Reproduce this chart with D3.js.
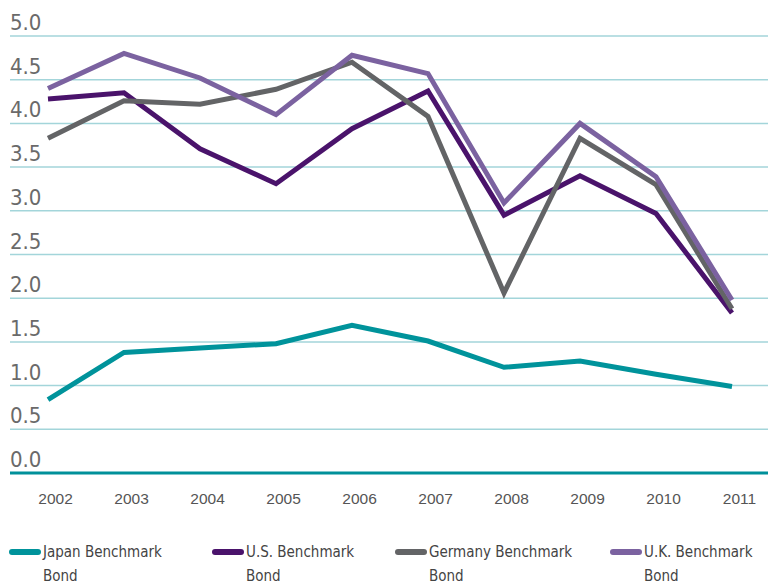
<!DOCTYPE html>
<html><head><meta charset="utf-8">
<script src="https://cdn.jsdelivr.net/npm/d3@7"></script>
<style>
html,body{margin:0;padding:0;background:#fff;}
svg{display:block;font-family:"Liberation Sans Narrow","DejaVu Sans Condensed","Roboto Condensed",sans-serif;}
</style></head>
<body><svg id="c" width="768" height="585"></svg>
<script>
const years = ["2002","2003","2004","2005","2006","2007","2008","2009","2010","2011"];
const yTicks = [0,0.5,1,1.5,2,2.5,3,3.5,4,4.5,5];
const japan   = [0.84,1.38,1.43,1.48,1.69,1.51,1.21,1.28,1.13,0.99];
const us      = [4.28,4.35,3.71,3.31,3.94,4.37,2.95,3.40,2.97,1.83];
const germany = [3.83,4.26,4.22,4.39,4.70,4.08,2.06,3.83,3.30,1.88];
const uk      = [4.40,4.80,4.52,4.10,4.78,4.57,3.09,4.00,3.39,1.98];
const seriesNames = ["Japan Benchmark|Bond","U.S. Benchmark|Bond","Germany Benchmark|Bond","U.K. Benchmark|Bond"];
const seriesColors = ["#00939b","#4a136b","#636466","#7b62a0"];
const seriesData = [japan,us,germany,uk];

const svg = d3.select("#c");
const x = d3.scalePoint().domain(years).range([48,732]);
const y = d3.scaleLinear().domain([0,5]).range([473,36]);

// gridlines
svg.append("g").selectAll("line").data(yTicks.filter(d=>d>0)).join("line")
  .attr("x1",10).attr("x2",768).attr("y1",d=>y(d)).attr("y2",d=>y(d))
  .attr("stroke","#a3d5da").attr("stroke-width",1.5);
// y labels
svg.append("g").selectAll("text").data(yTicks).join("text")
  .attr("x",10).attr("y",d=>y(d)-6)
  .attr("font-size",22).attr("fill","#6a6a6a")
  .text(d=>d3.format(".1f")(d));
// baseline axis
svg.append("line").attr("x1",10).attr("x2",768).attr("y1",y(0)).attr("y2",y(0))
  .attr("stroke","#00909a").attr("stroke-width",3);
// x labels
const xAxis = d3.axisBottom(x).tickSize(0).tickPadding(0);
const gx = svg.append("g").attr("transform",`translate(7,${y(0)})`).call(xAxis);
gx.select(".domain").remove();
gx.selectAll("text").attr("font-size",15.5).attr("fill","#555").attr("dy",0).attr("y",31)
  .attr("font-family","inherit");

// lines
const line = d3.line().x((d,i)=>x(years[i])).y(d=>y(d));
svg.append("g").selectAll("path").data(seriesData).join("path")
  .attr("d",line).attr("fill","none")
  .attr("stroke",(d,i)=>seriesColors[i]).attr("stroke-width",5)
  .attr("stroke-linejoin","miter").attr("stroke-miterlimit",10);

// legend
const legX = [10,213,396,611];
const leg = svg.append("g").selectAll("g").data(seriesNames).join("g")
  .attr("transform",(d,i)=>`translate(${legX[i]},552)`);
leg.append("line").attr("x1",2).attr("x2",28).attr("y1",0).attr("y2",0)
  .attr("stroke",(d,i)=>seriesColors[i]).attr("stroke-width",6).attr("stroke-linecap","round");
leg.each(function(d){
  const parts = d.split("|");
  const t = d3.select(this).append("text").attr("font-size",15).attr("fill","#444");
  t.append("tspan").attr("x",33).attr("y",5).text(parts[0]);
  t.append("tspan").attr("x",33).attr("y",29).text(parts[1]);
});
</script></body></html>
